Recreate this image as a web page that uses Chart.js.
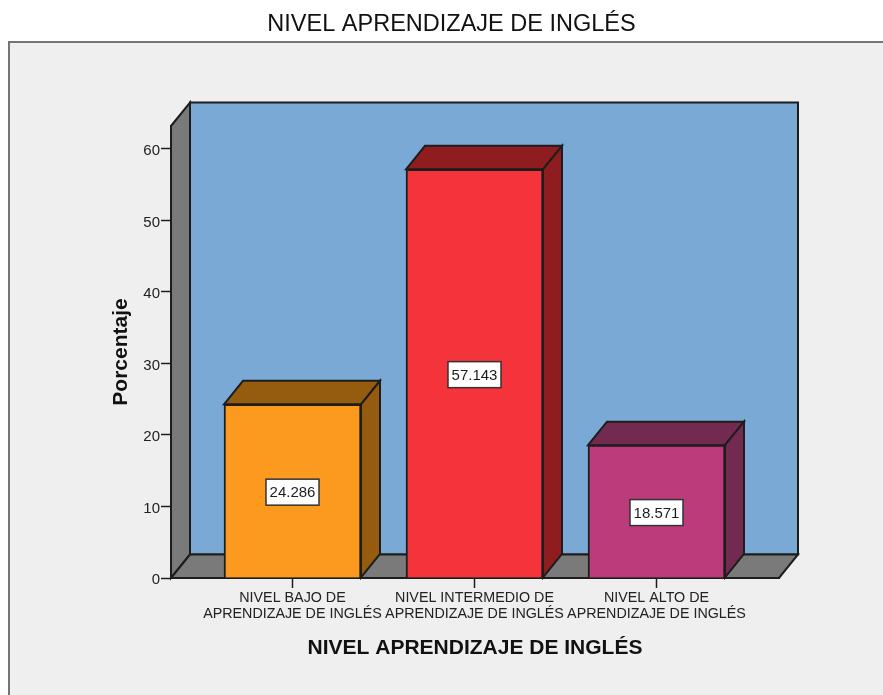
<!DOCTYPE html>
<html>
<head>
<meta charset="utf-8">
<style>html,body{margin:0;padding:0;background:#fff}canvas{display:block}</style>
<script src="https://cdn.jsdelivr.net/npm/chart.js@4"></script>
</head>
<body>
<div style="width:883px;height:695px"><canvas id="c"></canvas></div>
<script>
const titleText = "NIVEL APRENDIZAJE DE INGLÉS";
const xTitle = "NIVEL APRENDIZAJE DE INGLÉS";
const yTitle = "Porcentaje";
const categories = [
  ["NIVEL BAJO DE", "APRENDIZAJE DE INGLÉS"],
  ["NIVEL INTERMEDIO DE", "APRENDIZAJE DE INGLÉS"],
  ["NIVEL ALTO DE", "APRENDIZAJE DE INGLÉS"]
];
const values = [24.286, 57.143, 18.571];
const yTicks = [0, 10, 20, 30, 40, 50, 60];
const frontColors = ["#FB9A1E", "#F4343A", "#BC3C7B"];
const darkColors = ["#955C10", "#8F1D20", "#732A50"];
const DX = 19, DY = 23.5;
const INK = "#1d1d1d";
const FONT = "'Liberation Sans', Arial, sans-serif";

function poly(ctx, pts, fill, lw) {
  ctx.beginPath();
  pts.forEach((p, i) => i ? ctx.lineTo(p[0], p[1]) : ctx.moveTo(p[0], p[1]));
  ctx.closePath();
  ctx.fillStyle = fill; ctx.fill();
  ctx.lineWidth = lw || 2; ctx.strokeStyle = INK; ctx.lineJoin = "miter"; ctx.stroke();
}

const scene = {
  id: "scene",
  afterLayout(chart) {
    // title is centred on the plot frame, not on the canvas
    chart.titleBlock.left += 62; chart.titleBlock.right += 62;
  },
  beforeDraw(chart) {
    const { ctx, chartArea: a, width, height } = chart;
    ctx.save();
    ctx.fillStyle = "#EFEFEF";
    ctx.fillRect(9, 42, width - 9, height - 42);
    ctx.strokeStyle = "#757575"; ctx.lineWidth = 2;
    ctx.beginPath();
    ctx.moveTo(9, height); ctx.lineTo(9, 42); ctx.lineTo(width, 42);
    ctx.stroke();
    const L = a.left, R = a.right, T = a.top, B = a.bottom;
    poly(ctx, [[L + DX, T - DY], [R + DX, T - DY], [R + DX, B - DY], [L + DX, B - DY]], "#7BA9D6");
    poly(ctx, [[L, T], [L + DX, T - DY], [L + DX, B - DY], [L, B]], "#7A7A7A");
    poly(ctx, [[L, B], [L + DX, B - DY], [R + DX, B - DY], [R, B]], "#7A7A7A");
    ctx.restore();
  },
  beforeDatasetsDraw(chart) {
    const { ctx } = chart;
    ctx.save();
    chart.getDatasetMeta(0).data.forEach((b, i) => {
      const l = b.x - b.width / 2, r = b.x + b.width / 2;
      poly(ctx, [[l, b.y], [l + DX, b.y - DY], [r + DX, b.y - DY], [r, b.y]], darkColors[i]);
      poly(ctx, [[r, b.y], [r + DX, b.y - DY], [r + DX, b.base - DY], [r, b.base]], darkColors[i]);
    });
    ctx.restore();
  },
  afterDatasetsDraw(chart) {
    const { ctx } = chart;
    const yS = chart.scales.y;
    ctx.save();
    ctx.font = "15px " + FONT;
    ctx.textAlign = "center"; ctx.textBaseline = "middle";
    chart.getDatasetMeta(0).data.forEach((b, i) => {
      const cy = yS.getPixelForValue(values[i] / 2) + 1;
      const w = 53, h = 26;
      ctx.fillStyle = "#fff"; ctx.fillRect(b.x - w / 2, cy - h / 2, w, h);
      ctx.strokeStyle = "#333"; ctx.lineWidth = 1.5; ctx.strokeRect(b.x - w / 2, cy - h / 2, w, h);
      ctx.fillStyle = INK; ctx.fillText(values[i].toFixed(3), b.x, cy + 1);
    });
    ctx.restore();
  }
};

new Chart(document.getElementById("c"), {
  type: "bar",
  data: {
    datasets: [{
      data: values.map((v, i) => ({ x: i, y: v })),
      backgroundColor: frontColors,
      borderColor: INK,
      borderWidth: 2,
      barThickness: 137
    }]
  },
  options: {
    responsive: true,
    maintainAspectRatio: false,
    animation: false,
    layout: { padding: { left: 0, right: 104, top: 0, bottom: 0 } },
    plugins: {
      legend: { display: false },
      tooltip: { enabled: false },
      title: {
        display: true,
        text: titleText,
        color: "#111",
        font: { family: FONT, size: 23.5, weight: "normal", lineHeight: 1.2 },
        padding: { top: 10, bottom: 87.8 }
      }
    },
    scales: {
      x: {
        type: "linear",
        offset: false,
        min: -0.6676,
        max: 2.6731,
        afterBuildTicks(s) { s.ticks = categories.map((_, i) => ({ value: i })); },
        afterFit(s) { s.height = 117; },
        grid: { offset: false, drawOnChartArea: false, drawTicks: true, tickLength: 10, tickWidth: 1.5, tickColor: INK },
        border: { display: true, color: INK, width: 2 },
        ticks: {
          autoSkip: false, maxRotation: 0, minRotation: 0, padding: 2,
          color: "#222",
          font: { family: FONT, size: 14.3, lineHeight: 1.13 },
          callback: (v) => categories[v]
        },
        title: {
          display: true, text: xTitle, color: "#111",
          font: { family: FONT, size: 21, weight: "bold" },
          padding: { top: 14, bottom: 34 }
        }
      },
      y: {
        min: 0,
        max: 63.2,
        afterBuildTicks(s) { s.ticks = yTicks.map(v => ({ value: v })); },
        afterFit(s) { s.width = 171; },
        grid: { drawOnChartArea: false, drawTicks: true, tickLength: 10, tickWidth: 1.5, tickColor: INK },
        border: { display: true, color: INK, width: 2 },
        ticks: {
          padding: 1, color: "#222", labelOffset: 2,
          font: { family: FONT, size: 15 }
        },
        title: {
          display: true, text: yTitle, color: "#111",
          font: { family: FONT, size: 21, weight: "bold" },
          padding: { top: 109, bottom: 30 }
        }
      }
    }
  },
  plugins: [scene]
});
</script>
</body>
</html>
